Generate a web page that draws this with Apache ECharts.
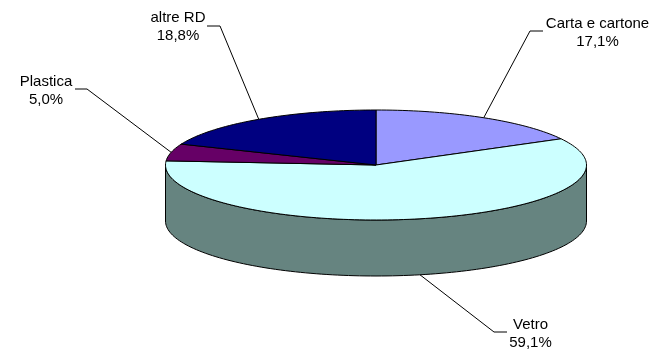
<!DOCTYPE html>
<html>
<head>
<meta charset="utf-8">
<style>html,body{margin:0;padding:0;background:#fff}#c{width:652px;height:349px}</style>
<script src="https://cdn.jsdelivr.net/npm/echarts@6/dist/echarts.min.js"></script>
</head>
<body>
<div id="c"></div>
<script>
const categories = ['Carta e cartone', 'Vetro', 'Plastica', 'altre RD'];
const values = [17.1, 59.1, 5.0, 18.8];

const topColors = ['#9999FF', '#CCFFFF', '#660066', '#000080'];
const wallColors = ['#4D4D80', '#668480', '#330033', '#000040'];
const labelAnchors = [
  {elbow: [530, 31], end: [543, 31], text: [597.5, 33]},
  {elbow: [494, 332], end: [507, 332], text: [530.5, 333.5]},
  {elbow: [87, 89], end: [75, 89], text: [46, 90.5]},
  {elbow: [220, 26], end: [207, 26], text: [178, 27]}
];
const cx = 376, cy = 165, rx = 210.5, ry = 55, depth = 56;
const total = values.reduce((a, b) => a + b, 0);
function pt(deg, dy) {
  const r = deg * Math.PI / 180;
  return [cx + rx * Math.sin(r), cy - ry * Math.cos(r) + (dy || 0)];
}
function arc(a0, a1, dy) {
  const out = [], n = Math.max(2, Math.ceil(Math.abs(a1 - a0) / 1.5));
  for (let i = 0; i <= n; i++) out.push(pt(a0 + (a1 - a0) * i / n, dy));
  return out;
}
const lineStyle = {stroke: '#000', lineWidth: 1, fill: null};

function renderItem(params, api) {
  const i = params.dataIndex;
  let before = 0;
  for (let k = 0; k < i; k++) before += values[k];
  const v = api.value(0);
  const a0 = before / total * 360, a1 = (before + v) / total * 360, mid = (a0 + a1) / 2;
  const children = [];
  const w0 = Math.max(a0, 90), w1 = Math.min(a1, 270);
  if (w1 > w0) {
    children.push({
      type: 'polygon', z2: 1,
      shape: {points: arc(w0, w1, 0).concat(arc(w1, w0, depth))},
      style: {fill: wallColors[i], stroke: '#000', lineWidth: 1}
    });
  }
  children.push({
    type: 'polygon', z2: 2,
    shape: {points: [[cx, cy]].concat(arc(a0, a1, 0))},
    style: {fill: topColors[i], stroke: '#000', lineWidth: 1}
  });
  const m = labelAnchors[i];
  const start = pt(mid, (mid > 90 && mid < 270) ? depth : 0);
  children.push({
    type: 'polyline', z2: 3,
    shape: {points: [start, m.elbow, m.end]},
    style: lineStyle
  });
  children.push({
    type: 'text', z2: 4,
    style: {
      x: m.text[0], y: m.text[1],
      text: categories[i] + '\n' + v.toFixed(1).replace('.', ',') + '%',
      fontFamily: '"Liberation Sans", Arial, sans-serif',
      fontSize: 15, lineHeight: 18, fill: '#000',
      align: 'center', verticalAlign: 'middle'
    }
  });
  return {type: 'group', children};
}

const chart = echarts.init(document.getElementById('c'), null, {renderer: 'canvas'});
chart.setOption({
  animation: false,
  backgroundColor: '#fff',
  series: [{
    type: 'custom',
    coordinateSystem: 'none',
    renderItem,
    data: values.map((v, i) => ({name: categories[i], value: [v]}))
  }]
});
</script>
</body>
</html>
